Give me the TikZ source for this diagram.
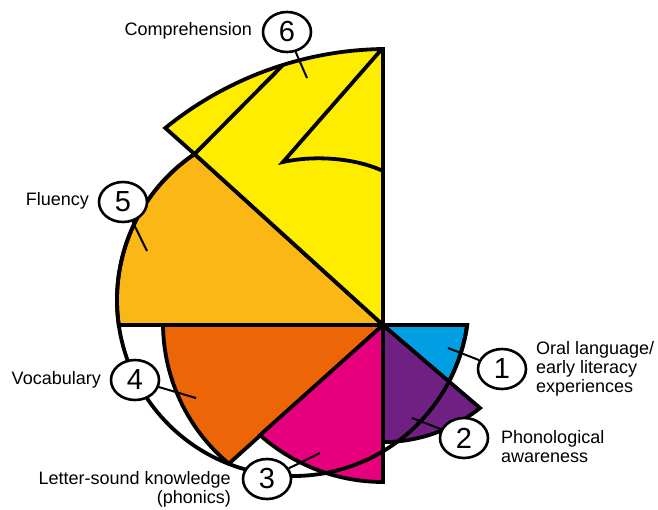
\documentclass[tikz,border=0pt]{standalone}
\usepackage{fontspec}
\setmainfont{Liberation Sans}
\usetikzlibrary{calc,shapes.geometric}

\definecolor{compyellow}{RGB}{255,237,0}
\definecolor{fluorange}{RGB}{251,183,22}
\definecolor{vocaborange}{RGB}{236,102,8}
\definecolor{phonpink}{RGB}{230,0,126}
\definecolor{phonpurple}{RGB}{112,32,130}
\definecolor{oralblue}{RGB}{0,159,227}

\begin{document}
\begin{tikzpicture}[x=1pt, y=-1pt,
                    part/.style={draw, line width=3.8pt, line join=miter},
                    num/.style={draw, ellipse, line width=2.6pt, fill=white,
                                minimum width=48pt, minimum height=40pt, inner sep=0pt,
                                font=\fontsize{29}{29}\selectfont},
                    lbl/.style={font=\fontsize{18}{19}\selectfont, inner sep=0pt},
                    lead/.style={line width=2pt}]
    \useasboundingbox (0,0) rectangle (658,509);
    \coordinate (O) at (383,325);
    \coordinate (C) at (293,300);
    \coordinate (X) at ($(C)+(236:176)$);

    % sectors
    \draw[part, fill=fluorange] (O) -- (118.8,325)
        arc[start angle=171.8, end angle=236, radius=176] -- cycle;
    \draw[part, fill=compyellow] (O) -- (383,49)
        arc[start angle=269.2, end angle=230.9, radius=353] -- (X) -- cycle;
    \draw[part] (X) -- (283,65);
    \draw[part] (381,50) -- (283,162) .. controls (315,155) and (355,158) .. (383,171);
    \draw[part, fill=vocaborange] (O) -- (163,325)
        arc[start angle=179.4, end angle=129.8, radius=183] -- cycle;
    \draw[part, fill=phonpink] (O) -- (260,435.1)
        arc[start angle=131.7, end angle=90, radius=185] -- cycle;
    \draw[part, fill=phonpurple] (O) -- (480,408)
        arc[start angle=51.3, end angle=90, radius=155] -- cycle;
    \draw[part, fill=oralblue] (O) -- (467.2,325)
        arc[start angle=8.2, end angle=27.6, radius=176] -- cycle;
    \draw[part] (X) arc[start angle=236, end angle=8.2, radius=176];

    % numbers
    \coordinate (P1) at (448,348);
    \coordinate (P2) at (412,418);
    \coordinate (P3) at (320,453);
    \coordinate (P4) at (196,398);
    \coordinate (P5) at (147,251);
    \coordinate (P6) at (307,78);
    \node[num] (N1) at (502,369) {1};
    \node[num] (N2) at (464,438) {2};
    \node[num] (N3) at (267,479) {3};
    \node[num] (N4) at (135,380) {4};
    \node[num] (N5) at (123,202) {5};
    \node[num] (N6) at (287,32)  {6};
    \draw[lead] (P1) -- (N1);
    \draw[lead] (P2) -- (N2);
    \draw[lead] (P3) -- (N3);
    \draw[lead] (P4) -- (N4);
    \draw[lead] (P5) -- (N5);
    \draw[lead] (P6) -- (N6);

    % labels
    \node[lbl, anchor=east] (L6) at (252,31) {Comprehension};
    \node[lbl, anchor=east] (L5) at (89,201) {Fluency};
    \node[lbl, anchor=east] (L4) at (101,380) {Vocabulary};
    \node[lbl, anchor=east, align=right] (L3) at (231,489)
        {Letter-sound knowledge\\(phonics)};
    \node[lbl, anchor=west, align=left] (L1) at (536,369)
        {Oral language/\\early literacy\\experiences};
    \node[lbl, anchor=west, align=left] (L2) at (501,447)
        {Phonological\\awareness};
\end{tikzpicture}
\end{document}
